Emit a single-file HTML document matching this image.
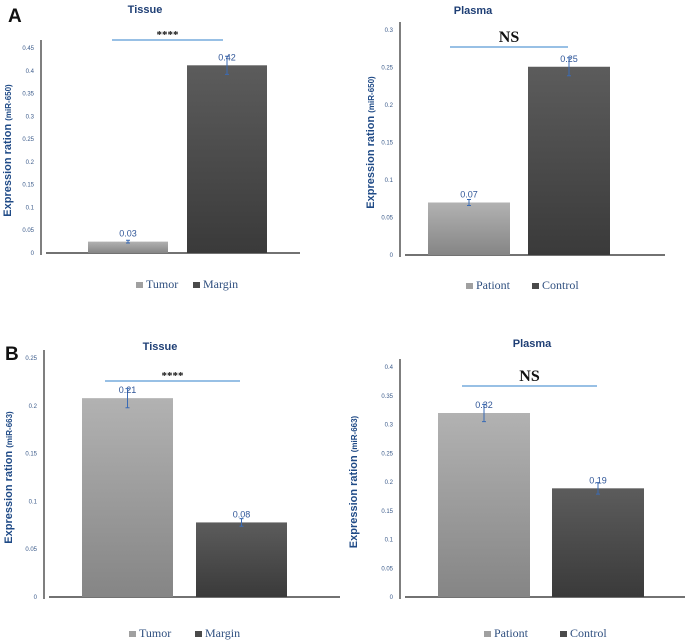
<!DOCTYPE html>
<html><head><meta charset="utf-8">
<style>
html,body{margin:0;padding:0;background:#fff;}
svg{display:block;font-family:"Liberation Sans",sans-serif;}
</style></head>
<body>
<svg id="chart" width="685" height="641" viewBox="0 0 685 641" xmlns="http://www.w3.org/2000/svg">
<defs>
<linearGradient id="gLight" x1="0" y1="0" x2="0" y2="1"><stop offset="0" stop-color="#b2b2b2"/><stop offset="1" stop-color="#858585"/></linearGradient>
<linearGradient id="gDark" x1="0" y1="0" x2="0" y2="1"><stop offset="0" stop-color="#5c5c5c"/><stop offset="1" stop-color="#3a3a3a"/></linearGradient>
</defs>
<text x="8" y="22" font-size="19" font-weight="bold" fill="#111">A</text>
<text x="5" y="360" font-size="19" font-weight="bold" fill="#111">B</text>
</svg>
<script>
// Panel data
const catsA1 = ["Tumor", "Margin"];
const valsA1 = [0.025, 0.412];
const errA1 = [0.003, 0.02];
const labelsA1 = ["0.03", "0.42"];
const ticksA1 = [0, 0.05, 0.1, 0.15, 0.2, 0.25, 0.3, 0.35, 0.4, 0.45];

const catsA2 = ["Pationt", "Control"];
const valsA2 = [0.07, 0.251];
const errA2 = [0.004, 0.012];
const labelsA2 = ["0.07", "0.25"];
const ticksA2 = [0, 0.05, 0.1, 0.15, 0.2, 0.25, 0.3];

const catsB1 = ["Tumor", "Margin"];
const valsB1 = [0.208, 0.078];
const errB1 = [0.01, 0.004];
const labelsB1 = ["0.21", "0.08"];
const ticksB1 = [0, 0.05, 0.1, 0.15, 0.2, 0.25];

const catsB2 = ["Pationt", "Control"];
const valsB2 = [0.32, 0.189];
const errB2 = [0.015, 0.01];
const labelsB2 = ["0.32", "0.19"];
const ticksB2 = [0, 0.05, 0.1, 0.15, 0.2, 0.25, 0.3, 0.35, 0.4];

const svg = document.getElementById('chart');
const NS = "http://www.w3.org/2000/svg";
function mk(tag, attrs, parent, text){
  const e = document.createElementNS(NS, tag);
  for (const k in attrs) e.setAttribute(k, attrs[k]);
  if (text !== undefined) e.textContent = text;
  (parent||svg).appendChild(e);
  return e;
}

function panel(p){
  const g = mk('g', {});
  
  
  const maxT = p.ticks[p.ticks.length-1];
  const y = v => p.y0 - (v / maxT) * (p.y0 - p.yTop);
  // title
  const t = mk('text', {x:p.titleX, y:p.titleY, 'font-size':11, 'font-weight':'bold', fill:'#1f3f75', 'text-anchor':'middle'}, g, p.title);
  
  
  // y axis
  const ya = mk('line', {x1:p.ax, y1:p.yTop-8, x2:p.ax, y2:p.y0+2, stroke:'#555', 'stroke-width':1.5}, g);
  
  
  const xa = mk('line', {x1:p.ax+5, y1:p.y0, x2:p.axEnd, y2:p.y0, stroke:'#444', 'stroke-width':1.5}, g);
  
  
  p.ticks.forEach(tv => {
    const tl = mk('text', {x:p.ax-7, y:y(tv)+2, 'font-size':6, fill:'#3a5a8a', 'text-anchor':'end'}, g, String(tv));
    
    
  });
  // y title
  const yt = mk('text', {x:0, y:0, 'font-size':11, 'font-weight':'bold', fill:'#1f4a86', 'text-anchor':'middle', transform:`translate(${p.ytX},${(p.yTop+p.y0)/2}) rotate(-90)`}, g);
  
  
  yt.textContent = 'Expression ration ';
  mk('tspan', {'font-size':8}, yt, '(miR-' + p.mir + ')');
  // bars
  p.cats.forEach((c, i) => {
    const x0 = p.barX[i], w = p.barW;
    const top = y(p.vals[i]);
    const b = mk('rect', {x:x0, y:top, width:w, height:p.y0-top, fill: i===0 ? 'url(#gLight)' : 'url(#gDark)'}, g);
    
    
    const cx = x0 + w/2;
    const e1 = y(p.vals[i] + p.err[i]), e2 = y(p.vals[i] - p.err[i]);
    const eb = mk('path', {d:`M${cx},${e1}V${e2}M${cx-2},${e1}H${cx+2}M${cx-2},${e2}H${cx+2}`, stroke:'#3a6bb5', 'stroke-width':1, fill:'none'}, g);
    
    
    const vl = mk('text', {x:cx, y:top-5, 'font-size':9, fill:'#2f5597', 'text-anchor':'middle'}, g, p.labels[i]);
    
    
    // legend
    const ls = mk('rect', {x:p.legX[i], y:p.legY-6, width:7, height:6, fill: i===0 ? '#a0a0a0' : '#4a4a4a'}, g);
    
    
    const lt = mk('text', {x:p.legX[i]+10, y:p.legY, 'font-size':12, 'font-family':'"Liberation Serif",serif', fill:'#2f4f7f'}, g, c);
    
    
  });
  // significance
  const sl = mk('line', {x1:p.sig[0], y1:p.sig[2], x2:p.sig[1], y2:p.sig[2], stroke:'#5b9bd5', 'stroke-width':1.2}, g);
  
  
  const st = mk('text', {x:(p.sig[0]+p.sig[1])/2, y:p.sig[2]-(p.sigText==='NS'?5:2), 'font-size':p.sigText==='NS'?16:11, 'font-weight':'bold', 'font-family':'"Liberation Serif",serif', fill:'#111', 'text-anchor':'middle'}, g, p.sigText);
  
  
}

panel({name:'panel-a-tissue', title:'Tissue', titleX:145, titleY:13, ax:41, axEnd:300, yTop:48, y0:253, ticks:ticksA1, ytX:11, mir:'650',
  cats:catsA1, vals:valsA1, err:errA1, labels:labelsA1, barX:[88,187], barW:80, legX:[136,193], legY:288, sig:[112,223,40], sigText:'****'});
panel({name:'panel-a-plasma', title:'Plasma', titleX:473, titleY:14, ax:400, axEnd:665, yTop:30, y0:255, ticks:ticksA2, ytX:374, mir:'650',
  cats:catsA2, vals:valsA2, err:errA2, labels:labelsA2, barX:[428,528], barW:82, legX:[466,532], legY:289, sig:[450,568,47], sigText:'NS'});
panel({name:'panel-b-tissue', title:'Tissue', titleX:160, titleY:350, ax:44, axEnd:340, yTop:358, y0:597, ticks:ticksB1, ytX:12, mir:'663',
  cats:catsB1, vals:valsB1, err:errB1, labels:labelsB1, barX:[82,196], barW:91, legX:[129,195], legY:637, sig:[105,240,381], sigText:'****'});
panel({name:'panel-b-plasma', title:'Plasma', titleX:532, titleY:347, ax:400, axEnd:685, yTop:367, y0:597, ticks:ticksB2, ytX:357, mir:'663',
  cats:catsB2, vals:valsB2, err:errB2, labels:labelsB2, barX:[438,552], barW:92, legX:[484,560], legY:637, sig:[462,597,386], sigText:'NS'});
</script>
</body></html>
